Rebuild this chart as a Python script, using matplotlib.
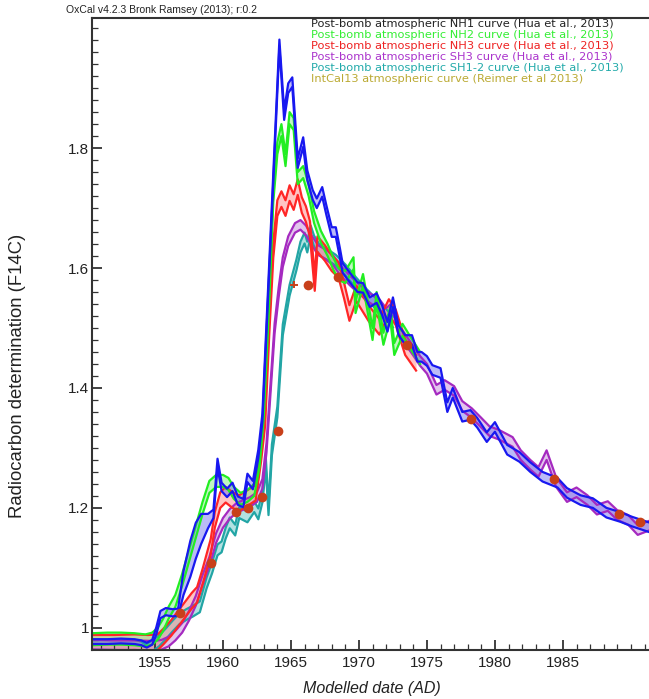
import numpy as np
import matplotlib
matplotlib.use("Agg")
import matplotlib.pyplot as plt
from matplotlib.ticker import MultipleLocator, FixedLocator, FuncFormatter

plt.rcParams['font.family'] = ['Liberation Sans', 'DejaVu Sans']

# NH1 (Hua et al. 2013)
nh1_year = [1950.4, 1951.5, 1952.5, 1953.5, 1954.0, 1954.4, 1954.8, 1955.1, 1955.4, 1955.8,
            1956.3, 1956.7, 1957.1, 1957.6, 1958.0, 1958.4, 1958.9, 1959.3, 1959.6, 1959.9,
            1960.3, 1960.7, 1961.1, 1961.5, 1961.8, 1962.2, 1962.6, 1962.9, 1963.3, 1963.6,
            1963.9, 1964.15, 1964.5, 1964.8, 1965.1, 1965.5, 1965.9, 1966.2, 1966.6, 1966.9,
            1967.3, 1967.6, 1968.0, 1968.3, 1968.6, 1968.8, 1969.3, 1969.9, 1970.3, 1970.8,
            1971.3, 1971.7, 1972.1, 1972.5, 1972.9, 1973.4, 1973.9, 1974.3, 1974.6, 1975.0,
            1975.4, 1976.0, 1976.5, 1976.9, 1977.6, 1978.2, 1978.7, 1979.4, 1980.0, 1980.9,
            1981.8, 1982.6, 1983.5, 1984.6, 1985.3, 1986.3, 1987.2, 1988.2, 1989.2, 1990.1,
            1991.3]
nh1_f14c = [0.977, 0.977, 0.978, 0.977, 0.975, 0.971, 0.976, 0.995, 1.022, 1.027,
            1.025, 1.026, 1.075, 1.115, 1.145, 1.165, 1.178, 1.19, 1.275, 1.235,
            1.225, 1.235, 1.212, 1.208, 1.25, 1.238, 1.29, 1.35, 1.55, 1.70,
            1.85, 1.975, 1.855, 1.9, 1.91, 1.775, 1.81, 1.755, 1.722, 1.708,
            1.727, 1.697, 1.66, 1.66, 1.625, 1.6, 1.585, 1.568, 1.567, 1.543,
            1.55, 1.53, 1.502, 1.543, 1.497, 1.48, 1.48, 1.452, 1.452, 1.445,
            1.43, 1.425, 1.368, 1.392, 1.352, 1.355, 1.342, 1.318, 1.335, 1.297,
            1.285, 1.268, 1.252, 1.242, 1.225, 1.213, 1.208, 1.192, 1.185, 1.177,
            1.168]
nh1_err = ([0.004] * 7 + [0.006] * 5 + [0.02, 0.03, 0.03, 0.025, 0.012]
           + [0.007] * 14 + [0.006] + [0.008] * 49)

# NH2
nh2_year = [1950.4, 1951.5, 1952.5, 1953.5, 1954.3, 1954.8, 1955.2, 1955.6, 1956.0, 1956.5,
            1957.0, 1957.5, 1958.0, 1958.5, 1959.0, 1959.5, 1960.0, 1960.4, 1960.8, 1961.3,
            1961.8, 1962.3, 1962.7, 1963.0, 1963.4, 1963.7, 1964.0, 1964.3, 1964.6, 1964.9,
            1965.2, 1965.5, 1965.9, 1966.3, 1966.7, 1967.2, 1967.7, 1968.1, 1968.5, 1969.0,
            1969.6, 1969.75, 1970.3, 1971.0, 1971.3, 1971.8, 1972.3, 1972.6, 1973.2, 1973.8,
            1974.5]
nh2_f14c = [0.981, 0.982, 0.982, 0.981, 0.979, 0.982, 0.99, 1.005, 1.025, 1.045,
            1.08, 1.12, 1.16, 1.2, 1.235, 1.245, 1.245, 1.24, 1.225, 1.215,
            1.22, 1.23, 1.28, 1.36, 1.55, 1.72, 1.8, 1.83, 1.78, 1.85,
            1.84, 1.75, 1.76, 1.73, 1.685, 1.652, 1.63, 1.608, 1.59, 1.585,
            1.608, 1.535, 1.58, 1.49, 1.55, 1.482, 1.525, 1.465, 1.497, 1.475,
            1.45]
nh2_err = 0.01

# NH3
nh3_year = [1950.4, 1952.0, 1953.5, 1954.5, 1955.2, 1955.6, 1956.2, 1956.7, 1957.2, 1957.7,
            1958.1, 1958.5, 1958.8, 1959.1, 1959.4, 1959.8, 1960.2, 1960.7, 1961.2, 1961.9,
            1962.4, 1962.8, 1963.1, 1963.4, 1963.7, 1964.0, 1964.3, 1964.6, 1964.9, 1965.2,
            1965.5, 1965.8, 1966.1, 1966.4, 1966.75, 1966.95, 1967.5, 1968.0, 1968.5, 1968.9,
            1969.3, 1969.8, 1970.7, 1971.5, 1972.2, 1972.7, 1973.4, 1974.2]
nh3_f14c = [0.975, 0.975, 0.976, 0.975, 0.976, 0.985, 1.0, 1.015, 1.03, 1.045,
            1.055, 1.085, 1.11, 1.135, 1.18, 1.213, 1.222, 1.213, 1.208, 1.218,
            1.225, 1.29, 1.35, 1.5, 1.63, 1.7, 1.715, 1.7, 1.725, 1.71,
            1.735, 1.705, 1.69, 1.665, 1.575, 1.64, 1.625, 1.608, 1.597, 1.563,
            1.525, 1.558, 1.525, 1.502, 1.535, 1.518, 1.468, 1.442]
nh3_err = 0.013

# SH3
sh3_year = [1950.4, 1952.0, 1953.5, 1955.0, 1955.5, 1956.0, 1956.5, 1957.0, 1957.5, 1958.0,
            1958.5, 1959.0, 1959.5, 1960.0, 1960.5, 1961.0, 1961.5, 1962.0, 1962.5, 1962.9,
            1963.2, 1963.5, 1963.8, 1964.1, 1964.4, 1964.8, 1965.3, 1965.7, 1966.1, 1966.5,
            1967.0, 1967.6, 1968.1, 1968.6, 1969.3, 1970.0, 1970.8, 1971.5, 1972.0, 1972.5,
            1973.0, 1973.5, 1974.0, 1974.5, 1975.0, 1975.7, 1976.3, 1977.0, 1977.6, 1978.3,
            1979.0, 1979.6, 1980.3, 1981.3, 1981.9, 1982.6, 1983.2, 1983.8, 1984.5, 1985.3,
            1986.0, 1986.8, 1987.5, 1988.3, 1989.0, 1989.8, 1990.5, 1991.3]
sh3_f14c = [0.972, 0.971, 0.971, 0.97, 0.972, 0.977, 0.987, 1.0, 1.02, 1.045,
            1.08, 1.11, 1.15, 1.175, 1.19, 1.2, 1.205, 1.21, 1.218, 1.24,
            1.3, 1.4, 1.5, 1.56, 1.61, 1.645, 1.667, 1.672, 1.663, 1.647,
            1.63, 1.622, 1.613, 1.597, 1.58, 1.565, 1.55, 1.54, 1.525, 1.535,
            1.495, 1.478, 1.462, 1.445, 1.432, 1.397, 1.405, 1.395, 1.37, 1.358,
            1.342, 1.328, 1.322, 1.31, 1.288, 1.272, 1.26, 1.288, 1.243, 1.218,
            1.226, 1.213, 1.197, 1.203, 1.188, 1.18, 1.163, 1.17]
sh3_err = 0.008

# SH1-2
sh12_year = [1950.4, 1952.0, 1953.5, 1954.0, 1954.3, 1954.8, 1955.3, 1955.8, 1956.3, 1956.8,
             1957.3, 1957.8, 1958.3, 1958.8, 1959.2, 1959.6, 1959.9, 1960.2, 1960.5, 1960.9,
             1961.2, 1961.8, 1962.3, 1962.6, 1962.9, 1963.15, 1963.35, 1963.6, 1964.0, 1964.4,
             1964.9, 1965.4, 1965.7, 1966.0, 1966.2, 1966.45, 1966.7, 1967.1, 1967.7, 1968.3,
             1969.0, 1969.8, 1970.6, 1971.5, 1972.5]
sh12_f14c = [0.972, 0.972, 0.971, 0.968, 0.963, 0.97, 0.978, 0.99, 1.003, 1.015,
             1.022, 1.028, 1.035, 1.075, 1.1, 1.13, 1.135, 1.158, 1.175, 1.163,
             1.192, 1.185, 1.202, 1.19, 1.218, 1.275, 1.197, 1.297, 1.36, 1.497,
             1.563, 1.605, 1.635, 1.65, 1.635, 1.662, 1.645, 1.63, 1.622, 1.613,
             1.597, 1.575, 1.555, 1.535, 1.51]
sh12_err = 0.009

# modelled sample dates
sample_year = [1956.84, 1959.12, 1960.96, 1961.84, 1962.87, 1964.04, 1966.25, 1968.46,
               1973.53, 1978.24, 1984.34, 1989.12, 1990.66]
sample_f14c = [1.025, 1.108, 1.193, 1.2, 1.218, 1.328, 1.572, 1.585,
               1.472, 1.348, 1.248, 1.19, 1.177]
cross_year = [1965.2]
cross_f14c = [1.572]

legend_lines = [
    ("Post-bomb atmospheric NH1 curve (Hua et al., 2013)", "#222222"),
    ("Post-bomb atmospheric NH2 curve (Hua et al., 2013)", "#33ee33"),
    ("Post-bomb atmospheric NH3 curve (Hua et al., 2013)", "#ee2222"),
    ("Post-bomb atmospheric SH3 curve (Hua et al., 2013)", "#aa33cc"),
    ("Post-bomb atmospheric SH1-2 curve (Hua et al., 2013)", "#22aaaa"),
    ("IntCal13 atmospheric curve (Reimer et al 2013)", "#bbaa33"),
]

x_major = [1955, 1960, 1965, 1970, 1975, 1980, 1985]
y_major = [1.0, 1.2, 1.4, 1.6, 1.8]

W, H = 649, 699
fig = plt.figure(figsize=(W / 100, H / 100), dpi=100)
ax = fig.add_axes([92 / W, 49 / H, 560 / W, 632 / H])


def band(year, f, err, line, fill, alpha):
    year = np.asarray(year)
    f = np.asarray(f)
    err = np.asarray(err) * np.ones_like(f)
    ax.fill_between(year, f - err, f + err, color=fill, alpha=alpha, lw=0)
    ax.plot(year, f + err, color=line, lw=1.6)
    ax.plot(year, f - err, color=line, lw=1.6)


band(sh12_year, sh12_f14c, sh12_err, "#22a5a5", "#55c0c0", 0.45)
band(sh3_year, sh3_f14c, sh3_err, "#a52ac0", "#c080d8", 0.45)
band(nh3_year, nh3_f14c, nh3_err, "#ff2626", "#ff8a8a", 0.5)
band(nh2_year, nh2_f14c, nh2_err, "#22ee22", "#77ee77", 0.45)
band(nh1_year, nh1_f14c, nh1_err, "#1818f0", "#6a6aee", 0.45)

ax.errorbar(cross_year, cross_f14c, xerr=0.3, yerr=0.006, fmt="none",
            ecolor="#c8401a", elinewidth=1.4)
ax.plot(sample_year, sample_f14c, "o", color="#c8401a", ms=7, mec="none", zorder=5)

ax.set_xlim(1950.37, 1991.55)
ax.set_ylim(0.963, 2.017)
ax.xaxis.set_major_locator(FixedLocator(x_major))
ax.xaxis.set_minor_locator(MultipleLocator(1))
ax.yaxis.set_major_locator(FixedLocator(y_major))
ax.yaxis.set_minor_locator(MultipleLocator(0.02))
ax.yaxis.set_major_formatter(FuncFormatter(lambda v, _: f"{v:g}"))
ax.tick_params(which="both", direction="in", top=False, right=False,
               colors="#333333", labelcolor="#222222", labelsize=11)
ax.tick_params(which="major", length=7, width=1.3)
ax.tick_params(which="minor", length=4, width=0.9)
ax.tick_params(axis="x", which="major", pad=4)
ax.tick_params(axis="y", which="major", pad=2)
for side in ("left", "bottom", "top"):
    ax.spines[side].set_color("#333333")
    ax.spines[side].set_linewidth(1.5)
ax.spines["right"].set_visible(False)

ax.set_xlabel("Modelled date (AD)", fontsize=11.5, style="italic", color="#222222", labelpad=8)
fig.text(18 / W, 1 - 376 / H, "Radiocarbon determination (F14C)", fontsize=13.3,
         color="#222222", rotation=90, ha="center", va="center")

fig.text(66 / W, 1 - 10 / H, "OxCal v4.2.3 Bronk Ramsey (2013); r:0.2",
         fontsize=7.5, color="#222222", va="center", ha="left")
for i, (txt, col) in enumerate(legend_lines):
    fig.text(311 / W, 1 - (24 + 11 * i) / H, txt, fontsize=8.2, color=col,
             family="DejaVu Sans", va="center", ha="left")

fig.savefig("out.png", dpi=100)
